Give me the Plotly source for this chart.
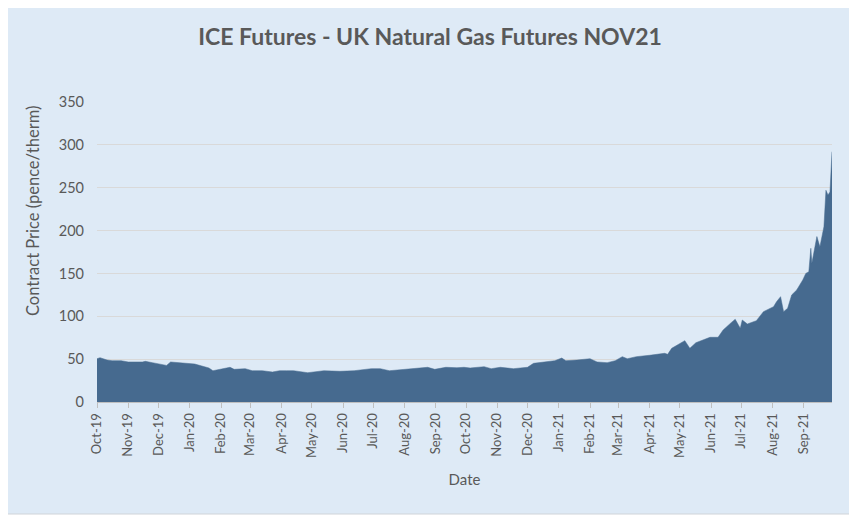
import plotly.graph_objects as go

dates = [
    "2019-10-01", "2019-10-02", "2019-10-04", "2019-10-11", "2019-10-16", "2019-10-25",
    "2019-11-01", "2019-11-15", "2019-11-18", "2019-11-25", "2019-12-04", "2019-12-09",
    "2019-12-13", "2019-12-19", "2019-12-26", "2019-12-31", "2020-01-06", "2020-01-13",
    "2020-01-20", "2020-01-24", "2020-01-31", "2020-02-10", "2020-02-14", "2020-02-25",
    "2020-03-03", "2020-03-13", "2020-03-23", "2020-03-30", "2020-04-06", "2020-04-13",
    "2020-04-27", "2020-05-13", "2020-05-29", "2020-06-12", "2020-06-29", "2020-07-08",
    "2020-07-17", "2020-07-31", "2020-08-13", "2020-08-24", "2020-08-31", "2020-09-11",
    "2020-09-22", "2020-09-29", "2020-10-05", "2020-10-19", "2020-10-26", "2020-11-04",
    "2020-11-17", "2020-12-01", "2020-12-07", "2020-12-17", "2020-12-28", "2021-01-04",
    "2021-01-08", "2021-01-19", "2021-02-01", "2021-02-08", "2021-02-18", "2021-02-26",
    "2021-03-05", "2021-03-10", "2021-03-19", "2021-04-01", "2021-04-16", "2021-04-19",
    "2021-04-23", "2021-05-06", "2021-05-11", "2021-05-17", "2021-05-20", "2021-05-31",
    "2021-06-08", "2021-06-13", "2021-06-21", "2021-06-25", "2021-06-30", "2021-07-02",
    "2021-07-07", "2021-07-16", "2021-07-23", "2021-08-02", "2021-08-05", "2021-08-09",
    "2021-08-12", "2021-08-16", "2021-08-20", "2021-08-25", "2021-08-31", "2021-09-03",
    "2021-09-06", "2021-09-08", "2021-09-09", "2021-09-14", "2021-09-17", "2021-09-21",
    "2021-09-23", "2021-09-25", "2021-09-27", "2021-09-29",
]

prices = [
    50.5, 51.0, 51.7, 49.0, 48.2, 48.2,
    46.7, 46.7, 47.4, 45.9, 43.5, 42.7,
    46.7, 45.9, 45.1, 45.1, 44.3, 42.0,
    39.7, 36.5, 38.1, 40.5, 38.1, 38.9,
    36.5, 36.5, 35.0, 36.5, 36.5, 36.5,
    34.2, 36.5, 35.8, 36.5, 38.9, 38.9,
    36.5, 38.1, 38.9, 40.5, 38.1, 40.5,
    40.0, 40.5, 39.7, 41.2, 38.9, 40.5,
    38.9, 40.5, 45.1, 46.7, 48.2, 51.3,
    48.2, 49.0, 50.5, 46.7, 45.9, 48.2,
    52.9, 50.5, 52.9, 54.5, 56.8, 55.6,
    62.6, 71.6, 62.6, 69.2, 70.4, 75.5,
    75.5, 84.0, 92.6, 96.5, 86.0, 95.7,
    91.0, 94.9, 105.4, 111.2, 117.0, 122.9,
    105.4, 109.3, 124.9, 130.7, 142.4, 150.0,
    152.0, 179.3, 161.8, 193.0, 181.0, 204.5,
    247.0, 241.5, 245.0, 292.0,
]

tick_dates = [
    "2019-10-01", "2019-11-01", "2019-12-01", "2020-01-01", "2020-02-01", "2020-03-01",
    "2020-04-01", "2020-05-01", "2020-06-01", "2020-07-01", "2020-08-01", "2020-09-01",
    "2020-10-01", "2020-11-01", "2020-12-01", "2021-01-01", "2021-02-01", "2021-03-01",
    "2021-04-01", "2021-05-01", "2021-06-01", "2021-07-01", "2021-08-01", "2021-09-01",
]
tick_labels = [
    "Oct-19", "Nov-19", "Dec-19", "Jan-20", "Feb-20", "Mar-20",
    "Apr-20", "May-20", "Jun-20", "Jul-20", "Aug-20", "Sep-20",
    "Oct-20", "Nov-20", "Dec-20", "Jan-21", "Feb-21", "Mar-21",
    "Apr-21", "May-21", "Jun-21", "Jul-21", "Aug-21", "Sep-21",
]

# page body has an 8px margin: figure coords = page coords - 8
OFF = 8
W, H = 857 - OFF, 518 - OFF
ML = 97 - OFF
MT = 102 - OFF
MR = W - (832 - OFF)
MB = H - (402 - OFF)
pw = W - ML - MR
ph = H - MT - MB

def px_to_paper_x(px):
    return (px - OFF - ML) / pw

def px_to_paper_y(py):
    return (H - MB - (py - OFF)) / ph

FILL = "#466A8F"
TXT = "#595959"
FONT = "Lato"

fig = go.Figure()
fig.add_trace(go.Scatter(
    x=dates, y=prices, mode="lines", fill="tozeroy",
    line=dict(color=FILL, width=0.5), fillcolor=FILL,
    hoverinfo="x+y", showlegend=False,
))

fig.add_shape(
    type="rect", xref="paper", yref="paper", layer="below",
    x0=px_to_paper_x(7), x1=px_to_paper_x(852),
    y0=px_to_paper_y(514), y1=px_to_paper_y(5),
    fillcolor="#DEEAF6", line=dict(color="#D0D4D9", width=1),
)

fig.add_annotation(
    text="Contract Price (pence/therm)", textangle=-90,
    xref="paper", yref="paper", x=px_to_paper_x(33), y=px_to_paper_y(211),
    xanchor="center", yanchor="middle", showarrow=False,
    font=dict(family=FONT, size=16.5, color=TXT),
)

fig.update_layout(
    width=W, height=H,
    margin=dict(l=ML, r=MR, t=MT, b=MB),
    paper_bgcolor="white",
    plot_bgcolor="rgba(0,0,0,0)",
    font=dict(family=FONT, color=TXT, size=13),
    title=dict(
        text="<b>ICE Futures - UK Natural Gas Futures NOV21</b>",
        x=(430 - OFF) / W, xanchor="center", y=1 - (37 - OFF) / H, yanchor="middle",
        font=dict(family=FONT, size=23, color=TXT),
    ),
    xaxis=dict(
        range=["2019-10-01", "2021-09-29"],
        tickmode="array", tickvals=tick_dates, ticktext=tick_labels,
        tickangle=-90, ticks="outside", ticklen=5, tickcolor="#BFBFBF",
        showline=True, linecolor="#BFBFBF", linewidth=1,
        showgrid=False, zeroline=False,
        tickfont=dict(family=FONT, size=13, color=TXT),
        title=dict(text="Date", standoff=17, font=dict(family=FONT, size=15, color=TXT)),
    ),
    yaxis=dict(
        range=[0, 350], tickmode="array", tickvals=[0, 50, 100, 150, 200, 250, 300, 350],
        showgrid=True, gridcolor="#D9D9D9", gridwidth=1,
        zeroline=False, showline=False, ticks="",
        ticklabelstandoff=12,
        tickfont=dict(family=FONT, size=14.5, color=TXT),
    ),
)

fig.write_html("out.html")
